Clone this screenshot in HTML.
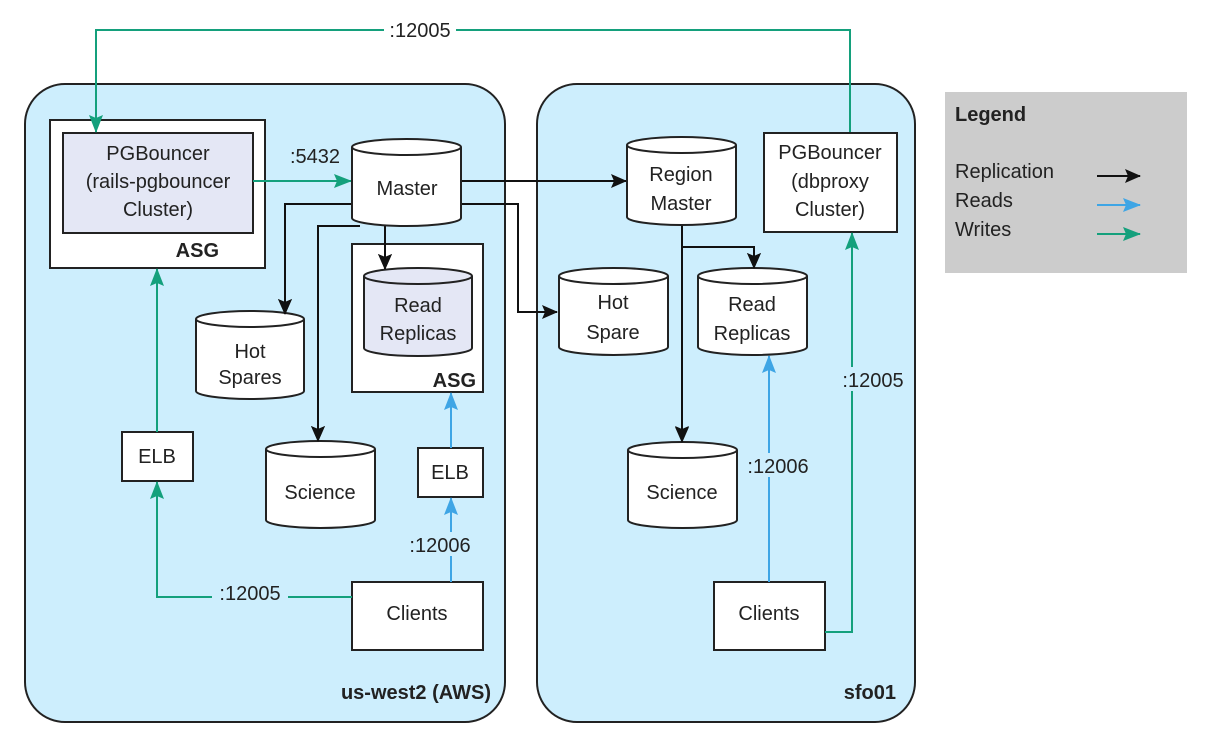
<!DOCTYPE html>
<html><head><meta charset="utf-8"><style>body{margin:0;background:#fff}svg{display:block}text{font-family:"Liberation Sans",sans-serif;font-size:20px;fill:#222}</style></head><body>
<svg width="1210" height="753" viewBox="0 0 1210 753">
<defs>
<marker id="k" markerWidth="16" markerHeight="14" refX="15" refY="7" orient="auto" markerUnits="userSpaceOnUse"><path d="M0,0 L16,7 L0,14 L3,7Z" fill="#111"/></marker>
<marker id="g" markerWidth="18" markerHeight="14" refX="17" refY="7" orient="auto" markerUnits="userSpaceOnUse"><path d="M0,0 L18,7 L0,14 L3,7Z" fill="#14a07c"/></marker>
<marker id="b" markerWidth="18" markerHeight="14" refX="17" refY="7" orient="auto" markerUnits="userSpaceOnUse"><path d="M0,0 L18,7 L0,14 L3,7Z" fill="#3ea5e5"/></marker>
</defs>
<rect x="25" y="84" width="480" height="638" rx="40" fill="#cdeefd" stroke="#222" stroke-width="2"/>
<rect x="537" y="84" width="378" height="638" rx="40" fill="#cdeefd" stroke="#222" stroke-width="2"/>
<rect x="945" y="92" width="242" height="181" fill="#cccccc"/>
<text x="955" y="121" font-weight="bold">Legend</text>
<text x="955" y="178">Replication</text><text x="955" y="207">Reads</text><text x="955" y="236">Writes</text>

<g stroke="#222" stroke-width="2">
<rect x="50" y="120" width="215" height="148" fill="#fff"/>
<rect x="63" y="133" width="190" height="100" fill="#e4e7f5"/>
<rect x="352" y="244" width="131" height="148" fill="#fff"/>
<rect x="122" y="432" width="71" height="49" fill="#fff"/>
<rect x="418" y="448" width="65" height="49" fill="#fff"/>
<rect x="352" y="582" width="131" height="68" fill="#fff"/>
<rect x="714" y="582" width="111" height="68" fill="#fff"/>
<rect x="764" y="133" width="133" height="99" fill="#fff"/>
</g>

<g fill="none" stroke-width="2">
<line x1="1097" y1="176" x2="1140" y2="176" stroke="#111" marker-end="url(#k)"/>
<line x1="1097" y1="205" x2="1140" y2="205" stroke="#3ea5e5" marker-end="url(#b)"/>
<line x1="1097" y1="234" x2="1140" y2="234" stroke="#14a07c" marker-end="url(#g)"/>
<polyline points="850,132 850,30 96,30 96,132" stroke="#14a07c" marker-end="url(#g)"/>
<line x1="253" y1="181" x2="351" y2="181" stroke="#14a07c" marker-end="url(#g)"/>
<line x1="157" y1="432" x2="157" y2="269" stroke="#14a07c" marker-end="url(#g)"/>
<polyline points="352,597 157,597 157,482" stroke="#14a07c" marker-end="url(#g)"/>
<line x1="451" y1="448" x2="451" y2="393" stroke="#3ea5e5" marker-end="url(#b)"/>
<line x1="451" y1="582" x2="451" y2="498" stroke="#3ea5e5" marker-end="url(#b)"/>
<polyline points="825,632 852,632 852,233" stroke="#14a07c" marker-end="url(#g)"/>
<line x1="769" y1="582" x2="769" y2="356" stroke="#3ea5e5" marker-end="url(#b)"/>
<line x1="461" y1="181" x2="626" y2="181" stroke="#111" marker-end="url(#k)"/>
<polyline points="461,204 518,204 518,312 557,312" stroke="#111" marker-end="url(#k)"/>
<polyline points="352,204 285,204 285,314" stroke="#111" marker-end="url(#k)"/>
<polyline points="360,226 318,226 318,441" stroke="#111" marker-end="url(#k)"/>
<line x1="385" y1="225" x2="385" y2="269" stroke="#111" marker-end="url(#k)"/>
<line x1="682" y1="225" x2="682" y2="441" stroke="#111" marker-end="url(#k)"/>
<polyline points="682,247 754,247 754,268" stroke="#111" marker-end="url(#k)"/>
</g>
<rect x="384" y="18" width="72" height="24" fill="#fff"/>
<text x="420" y="37" text-anchor="middle">:12005</text>
<text x="315" y="163" text-anchor="middle">:5432</text>
<rect x="212" y="583" width="76" height="24" fill="#cdeefd"/>
<text x="250" y="600" text-anchor="middle">:12005</text>
<rect x="403" y="532" width="76" height="24" fill="#cdeefd"/>
<text x="440" y="552" text-anchor="middle">:12006</text>
<rect x="740" y="453" width="76" height="24" fill="#cdeefd"/>
<text x="778" y="473" text-anchor="middle">:12006</text>
<rect x="836" y="367" width="76" height="24" fill="#cdeefd"/>
<text x="873" y="387" text-anchor="middle">:12005</text>

<g stroke="#222" stroke-width="2">
<path d="M352,147 V218 A54.5,8 0 0 0 461,218 V147" fill="#fff"/><ellipse cx="406.5" cy="147" rx="54.5" ry="8" fill="#fff"/>
<path d="M196,319 V391 A54,8 0 0 0 304,391 V319" fill="#fff"/><ellipse cx="250" cy="319" rx="54" ry="8" fill="#fff"/>
<path d="M364,276 V348 A54,8 0 0 0 472,348 V276" fill="#e4e7f5"/><ellipse cx="418" cy="276" rx="54" ry="8" fill="#e4e7f5"/>
<path d="M266,449 V520 A54.5,8 0 0 0 375,520 V449" fill="#fff"/><ellipse cx="320.5" cy="449" rx="54.5" ry="8" fill="#fff"/>
<path d="M627,145 V217 A54.5,8 0 0 0 736,217 V145" fill="#fff"/><ellipse cx="681.5" cy="145" rx="54.5" ry="8" fill="#fff"/>
<path d="M559,276 V347 A54.5,8 0 0 0 668,347 V276" fill="#fff"/><ellipse cx="613.5" cy="276" rx="54.5" ry="8" fill="#fff"/>
<path d="M698,276 V347 A54.5,8 0 0 0 807,347 V276" fill="#fff"/><ellipse cx="752.5" cy="276" rx="54.5" ry="8" fill="#fff"/>
<path d="M628,450 V520 A54.5,8 0 0 0 737,520 V450" fill="#fff"/><ellipse cx="682.5" cy="450" rx="54.5" ry="8" fill="#fff"/>
</g>
<g fill="none" stroke-width="2">
<line x1="285" y1="300" x2="285" y2="314" stroke="#111" marker-end="url(#k)"/>
<line x1="385" y1="255" x2="385" y2="269" stroke="#111" marker-end="url(#k)"/>
<line x1="318" y1="427" x2="318" y2="441" stroke="#111" marker-end="url(#k)"/>
<line x1="682" y1="427" x2="682" y2="442" stroke="#111" marker-end="url(#k)"/>
<line x1="754" y1="254" x2="754" y2="268" stroke="#111" marker-end="url(#k)"/>
</g>
<g text-anchor="middle">
<text x="158" y="160">PGBouncer</text><text x="158" y="188">(rails-pgbouncer</text><text x="158" y="216">Cluster)</text>
<text x="407" y="195">Master</text>
<text x="250" y="358">Hot</text><text x="250" y="384">Spares</text>
<text x="418" y="312">Read</text><text x="418" y="340">Replicas</text>
<text x="320" y="499">Science</text>
<text x="157" y="463">ELB</text><text x="450" y="479">ELB</text>
<text x="417" y="620">Clients</text><text x="769" y="620">Clients</text>
<text x="681" y="181">Region</text><text x="681" y="210">Master</text>
<text x="613" y="309">Hot</text><text x="613" y="339">Spare</text>
<text x="752" y="311">Read</text><text x="752" y="340">Replicas</text>
<text x="682" y="499">Science</text>
<text x="830" y="159">PGBouncer</text><text x="830" y="188">(dbproxy</text><text x="830" y="216">Cluster)</text>
</g>
<g text-anchor="end">
<text x="219" y="257" font-weight="bold">ASG</text>
<text x="476" y="387" font-weight="bold">ASG</text>
<text x="491" y="699" font-weight="bold">us-west2 (AWS)</text>
<text x="896" y="699" font-weight="bold">sfo01</text>
</g>
</svg>
</body></html>
